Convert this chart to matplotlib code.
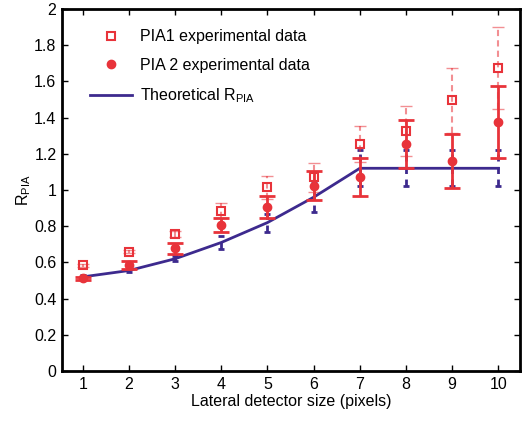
import matplotlib
matplotlib.use("Agg")
import matplotlib.pyplot as plt
import numpy as np

plt.rcParams['font.family'] = ['Liberation Sans', 'DejaVu Sans']
plt.rcParams['mathtext.fontset'] = 'custom'
plt.rcParams['mathtext.rm'] = 'Liberation Sans'
plt.rcParams['mathtext.it'] = 'Liberation Sans:italic'

sizes = [1, 2, 3, 4, 5, 6, 7, 8, 9, 10]
theory = [0.52, 0.555, 0.62, 0.71, 0.82, 0.96, 1.12, 1.12, 1.12, 1.12]
theory_err = [0.01, 0.01, 0.015, 0.035, 0.05, 0.08, 0.10, 0.10, 0.10, 0.10]
pia1 = [0.585, 0.66, 0.757, 0.886, 1.015, 1.07, 1.254, 1.326, 1.495, 1.674]
pia1_err = [0.008, 0.01, 0.015, 0.04, 0.065, 0.08, 0.10, 0.14, 0.18, 0.225]
pia2 = [0.512, 0.585, 0.678, 0.807, 0.908, 1.024, 1.07, 1.254, 1.162, 1.377]
pia2_err = [0.01, 0.02, 0.03, 0.04, 0.06, 0.08, 0.105, 0.135, 0.15, 0.2]

red = '#E8333A'
blue = '#3D2A8E'

fig = plt.figure(figsize=(5.24, 4.21), dpi=100)
ax = fig.add_axes([0.1183, 0.1188, 0.8741, 0.8598])

# theoretical error bars (dashed)
eb = ax.errorbar(sizes, theory, yerr=theory_err, fmt='none', ecolor=blue,
                 elinewidth=2, capsize=2.5, capthick=2, zorder=2)
for c in eb[2]:
    c.set_linestyle((0, (2.5, 2)))

# PIA1 error bars (dashed, light)
eb1 = ax.errorbar(sizes, pia1, yerr=pia1_err, fmt='none', ecolor=red,
                  elinewidth=1.5, capsize=4, capthick=1, alpha=0.55, zorder=3)
for c in eb1[2]:
    c.set_linestyle((0, (3, 2)))

# PIA2 error bars (solid)
ax.errorbar(sizes, pia2, yerr=pia2_err, fmt='none', ecolor=red,
            elinewidth=2, capsize=6, capthick=2, zorder=4)

ax.plot(sizes, theory, color=blue, lw=2, zorder=3, label=r'Theoretical R$_{\mathrm{PIA}}$')
ax.plot(sizes, pia1, ls='none', marker='s', ms=6, mfc='none', mec=red, mew=1.5,
        zorder=5, label='PIA1 experimental data')
ax.plot(sizes, pia2, ls='none', marker='o', ms=6, color=red, zorder=5,
        label='PIA 2 experimental data')

h, l = ax.get_legend_handles_labels()
order = [1, 2, 0]
ax.legend([h[i] for i in order], [l[i] for i in order], loc='upper left',
          bbox_to_anchor=(0.037, 0.975), frameon=False, fontsize=11.5,
          handlelength=2.6, handletextpad=0.55, labelspacing=0.85, borderaxespad=0.3)

ax.set_xlim(0.55, 10.47)
ax.set_ylim(0, 2)
ax.set_xticks(sizes)
ax.set_yticks(np.arange(0, 2.01, 0.2))
ax.set_yticklabels(['0', '0.2', '0.4', '0.6', '0.8', '1', '1.2', '1.4', '1.6', '1.8', '2'])
ax.tick_params(direction='in', top=True, right=True, length=4, width=1,
               labelsize=11.5, pad=4)
for s in ax.spines.values():
    s.set_linewidth(2)
ax.set_xlabel('Lateral detector size (pixels)', fontsize=11.5, labelpad=2)
ax.set_ylabel(r'R$_{\mathrm{PIA}}$', fontsize=11.5, labelpad=1)

fig.savefig('out.png', dpi=100)
